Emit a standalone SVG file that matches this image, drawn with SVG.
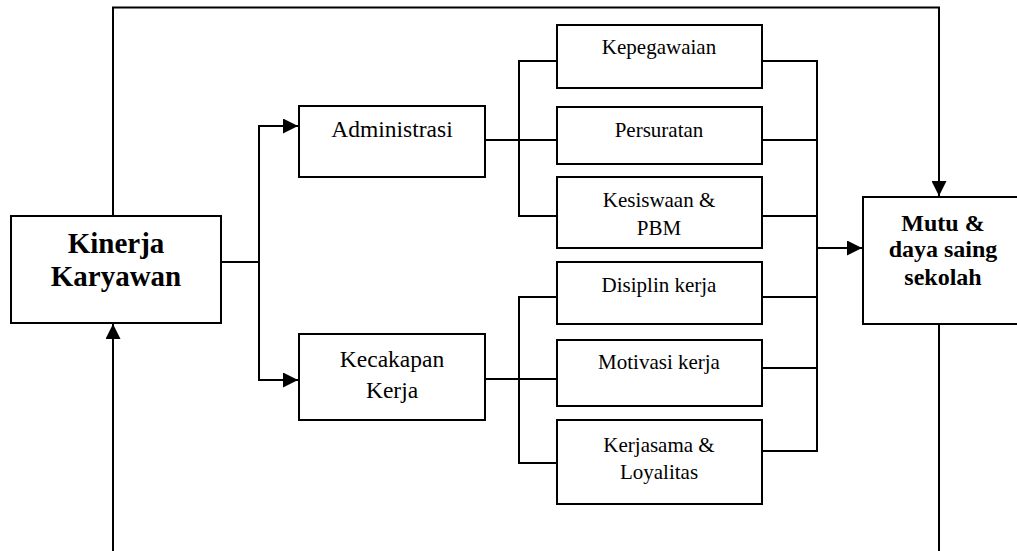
<svg xmlns="http://www.w3.org/2000/svg" width="1017" height="551" viewBox="0 0 1017 551">
<style>
.box{fill:#fff;stroke:#000;stroke-width:2}
.ln{fill:none;stroke:#000;stroke-width:2}
.t{font-family:'Liberation Serif',serif;fill:#000;text-anchor:middle}
.b{font-weight:bold}
</style>
<defs>
<marker id="ah" markerWidth="15" markerHeight="15" viewBox="0 0 15 15" refX="15" refY="7.5" orient="auto" markerUnits="userSpaceOnUse">
<path d="M0,0 L15,7.5 L0,15 Z" fill="#000"/>
</marker>
</defs>
<rect width="1017" height="551" fill="#fff"/>
<g id="connectors">
<path class="ln" d="M113,216 V7.5 H939 V196" marker-end="url(#ah)"/>
<path class="ln" d="M113,551 V324" marker-end="url(#ah)"/>
<path class="ln" d="M939,324 V551"/>
<path class="ln" d="M221,262 H259"/>
<path class="ln" d="M259,262 V126 H298" marker-end="url(#ah)"/>
<path class="ln" d="M259,262 V380 H298" marker-end="url(#ah)"/>
<path class="ln" d="M485,140 H519"/>
<path class="ln" d="M557,61 H519 V216 H557"/>
<path class="ln" d="M519,140 H557"/>
<path class="ln" d="M485,379 H519"/>
<path class="ln" d="M557,297 H519 V463 H557"/>
<path class="ln" d="M519,379 H557"/>
<path class="ln" d="M762,61 H817 V451 H762"/>
<path class="ln" d="M762,140 H817"/>
<path class="ln" d="M762,216 H817"/>
<path class="ln" d="M762,297 H817"/>
<path class="ln" d="M762,368 H817"/>
<path class="ln" d="M817,248 H862" marker-end="url(#ah)"/>
</g>
<g id="kinerja">
<rect class="box" x="11" y="216" width="210" height="107"/>
<text class="t b" font-size="29" x="116" y="253">Kinerja</text>
<text class="t b" font-size="29" x="116" y="286">Karyawan</text>
</g>
<g id="administrasi">
<rect class="box" x="299" y="106" width="186" height="71"/>
<text class="t" font-size="23.5" x="392" y="137">Administrasi</text>
</g>
<g id="kecakapan">
<rect class="box" x="299" y="334" width="186" height="86"/>
<text class="t" font-size="23.5" x="392" y="367">Kecakapan</text>
<text class="t" font-size="23.5" x="392" y="398">Kerja</text>
</g>
<g id="kepegawaian">
<rect class="box" x="557" y="25" width="205" height="63"/>
<text class="t" font-size="21" x="659" y="54">Kepegawaian</text>
</g>
<g id="persuratan">
<rect class="box" x="557" y="107" width="205" height="57"/>
<text class="t" font-size="21" x="659" y="137">Persuratan</text>
</g>
<g id="kesiswaan">
<rect class="box" x="557" y="177" width="205" height="71"/>
<text class="t" font-size="21" x="659" y="207">Kesiswaan &amp;</text>
<text class="t" font-size="21" x="659" y="235">PBM</text>
</g>
<g id="disiplin">
<rect class="box" x="557" y="262" width="205" height="62"/>
<text class="t" font-size="21" x="659" y="292">Disiplin kerja</text>
</g>
<g id="motivasi">
<rect class="box" x="557" y="340" width="205" height="66"/>
<text class="t" font-size="21" x="659" y="369">Motivasi kerja</text>
</g>
<g id="kerjasama">
<rect class="box" x="557" y="420" width="205" height="84"/>
<text class="t" font-size="21" x="659" y="452">Kerjasama &amp;</text>
<text class="t" font-size="21" x="659" y="479">Loyalitas</text>
</g>
<g id="mutu">
<rect class="box" x="863" y="197" width="170" height="127"/>
<text class="t b" font-size="24" x="943" y="231">Mutu &amp;</text>
<text class="t b" font-size="24" x="943" y="257">daya saing</text>
<text class="t b" font-size="24" x="943" y="285">sekolah</text>
</g>
</svg>
